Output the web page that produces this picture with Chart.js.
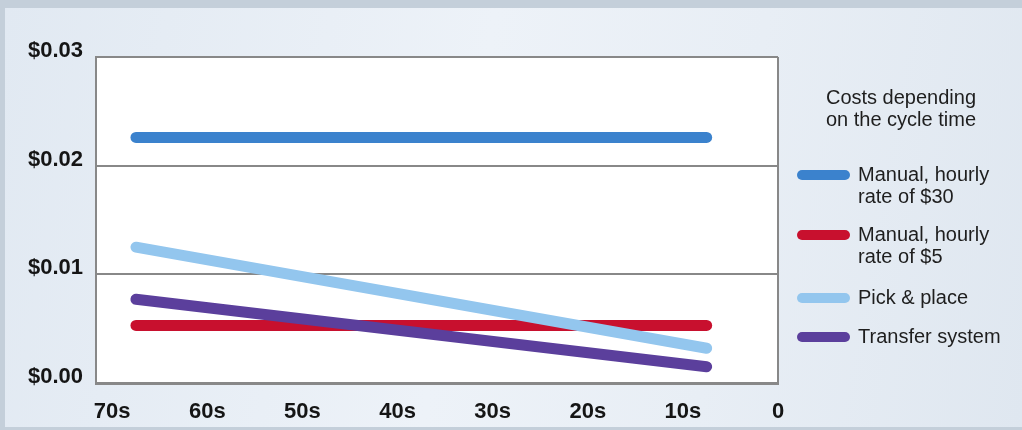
<!DOCTYPE html>
<html>
<head>
<meta charset="utf-8">
<script src="https://cdn.jsdelivr.net/npm/chart.js@4.4.1/dist/chart.umd.min.js"></script>
<style>
  html, body { margin: 0; padding: 0; }
  body { width: 1022px; height: 430px; background: #c4cfda; overflow: hidden; font-family: "Liberation Sans", Arial, sans-serif; }
  #panel {
    position: absolute; left: 5px; top: 8px; width: 1017px; height: 419px;
    background: linear-gradient(100deg, #e1e9f2 0%, #edf2f8 45%, #e8eef5 70%, #dfe7f0 100%);
  }
  #wrap { position: absolute; left: 0; top: 0; width: 1022px; height: 430px; }
  #legend { position: absolute; left: 780px; top: 0; width: 242px; height: 430px; color: #1e1e1e; font-size: 20px; }
  #legend .title { position: absolute; left: 0; width: 242px; top: 87px; text-align: center; line-height: 21.5px; }
  #legend .item { position: absolute; left: 17px; }
  #legend .swatch { position: absolute; left: 0; width: 53px; height: 10px; border-radius: 5px; }
  #legend .text { position: absolute; left: 61px; width: 180px; line-height: 22px; white-space: nowrap; }
</style>
</head>
<body>
<div id="panel"></div>
<div id="wrap"><canvas id="chart" width="1022" height="430"></canvas></div>
<div id="legend"></div>
<script>
document.addEventListener("DOMContentLoaded", function () {

  // cycle time (s) at the start and end of each line
  const cycleTimes = [67.5, 7.5];

  const seriesNames = [
    ['Manual, hourly', 'rate of $30'],
    ['Manual, hourly', 'rate of $5'],
    ['Pick & place'],
    ['Transfer system']
  ];
  const manual30 = [0.0226, 0.0226];
  const manual5 = [0.0053, 0.0053];
  const pickPlace = [0.0125, 0.0032];
  const transfer = [0.0077, 0.0015];

  const xTickValues = [70, 60, 50, 40, 30, 20, 10, 0];
  const xTickLabels = ['70s', '60s', '50s', '40s', '30s', '20s', '10s', '0'];
  const yTickValues = [0, 0.01, 0.02, 0.03];

  const colors = ['#3b82cd', '#c8102e', '#93c6ee', '#5b3f9c'];
  const legendTop = [175, 235, 298, 337];

  const toPoints = vals => vals.map((v, i) => ({ x: cycleTimes[i], y: v }));
  const gridGrey = '#888888';
  const tickFont = { family: '"Liberation Sans", Arial, sans-serif', size: 22, weight: 'bold' };

  const frame = {
    id: 'frame',
    beforeDraw(chart) {
      const { ctx, chartArea: a } = chart;
      ctx.save();
      ctx.fillStyle = '#ffffff';
      ctx.fillRect(a.left, a.top, a.right - a.left, a.bottom - a.top);
      ctx.restore();
    },
    afterDraw(chart) {
      const { ctx, chartArea: a } = chart;
      ctx.save();
      ctx.strokeStyle = gridGrey;
      ctx.lineWidth = 2;
      ctx.beginPath();
      ctx.moveTo(a.right, a.top);
      ctx.lineTo(a.right, a.bottom);
      ctx.stroke();
      ctx.restore();
    }
  };

  const line = (i, data, order) => ({
    label: seriesNames[i].join(' '),
    data: toPoints(data),
    borderColor: colors[i],
    borderWidth: 11,
    borderCapStyle: 'round',
    pointRadius: 0,
    tension: 0,
    order: order
  });

  new Chart(document.getElementById('chart'), {
    type: 'line',
    data: {
      datasets: [
        line(0, manual30, 4),
        line(1, manual5, 3),
        line(2, pickPlace, 1),
        line(3, transfer, 2)
      ]
    },
    options: {
      responsive: false,
      animation: false,
      layout: { padding: { top: 57, right: 244, left: 0, bottom: 0 } },
      plugins: { legend: { display: false }, tooltip: { enabled: false } },
      scales: {
        x: {
          type: 'linear',
          reverse: true,
          min: 0,
          max: 71.7,
          afterBuildTicks: s => { s.ticks = xTickValues.map(v => ({ value: v })); },
          afterFit: s => { s.height = 47; },
          grid: { display: false },
          border: { display: true, color: gridGrey, width: 3 },
          ticks: {
            autoSkip: false,
            maxRotation: 0,
            padding: 8,
            color: '#151515',
            font: tickFont,
            callback: v => xTickLabels[xTickValues.indexOf(v)]
          }
        },
        y: {
          min: 0,
          max: 0.03,
          afterBuildTicks: s => { s.ticks = yTickValues.map(v => ({ value: v })); },
          afterFit: s => { s.width = 96; },
          grid: { color: gridGrey, lineWidth: 2, drawTicks: false },
          border: { display: true, color: gridGrey, width: 2 },
          ticks: {
            padding: 13,
            color: '#151515',
            font: Object.assign({}, tickFont, { lineHeight: 0.55 }),
            callback: v => ['$' + v.toFixed(2), '']
          }
        }
      }
    },
    plugins: [frame]
  });

  // legend
  const legend = document.getElementById('legend');
  const title = document.createElement('div');
  title.className = 'title';
  title.innerHTML = 'Costs depending<br>on the cycle time';
  legend.appendChild(title);
  seriesNames.forEach((name, i) => {
    const item = document.createElement('div');
    item.className = 'item';
    item.style.top = legendTop[i] + 'px';
    const sw = document.createElement('div');
    sw.className = 'swatch';
    sw.style.top = '-5px';
    sw.style.background = colors[i];
    const tx = document.createElement('div');
    tx.className = 'text';
    tx.style.top = '-12px';
    tx.innerHTML = name.map(t => t.replace('&', '&amp;')).join('<br>');
    item.appendChild(sw);
    item.appendChild(tx);
    legend.appendChild(item);
  });

});
</script>
</body>
</html>
